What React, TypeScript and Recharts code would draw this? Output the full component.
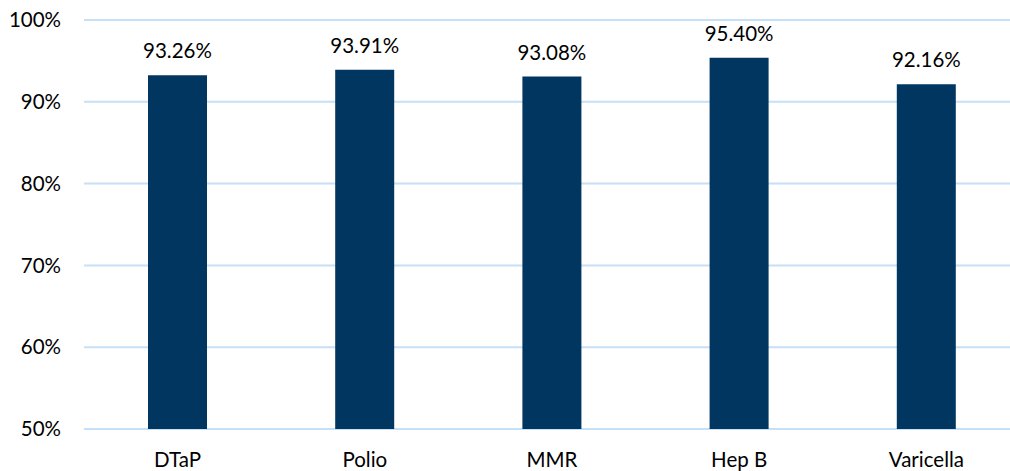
import React from "react";
import { BarChart, Bar, XAxis, YAxis, CartesianGrid, LabelList } from "recharts";

const categories = ["DTaP", "Polio", "MMR", "Hep B", "Varicella"];
const coverage = [93.26, 93.91, 93.08, 95.4, 92.16];
const yTicks = [50, 60, 70, 80, 90, 100];

const data = categories.map((name, i) => ({ name, value: coverage[i] }));

const FONT = "Lato, 'Open Sans', sans-serif";

export default function App() {
  return (
    <div
      style={{
        position: "fixed",
        left: 0,
        top: 0,
        width: 1010,
        height: 471,
        overflow: "hidden",
        background: "#ffffff",
      }}
    >
      <BarChart
        width={1020}
        height={471}
        data={data}
        margin={{ top: 20, right: 0, bottom: 0, left: 0 }}
      >
        <CartesianGrid
          horizontal={true}
          vertical={false}
          stroke="#C5E0F7"
          strokeWidth={2}
        />
        <XAxis
          dataKey="name"
          axisLine={false}
          tickLine={false}
          height={42}
          tickSize={0}
          tick={{ fill: "#000000", fontSize: 20.5, fontFamily: FONT, dy: 21 }}
          interval={0}
        />
        <YAxis
          domain={[50, 100]}
          ticks={yTicks}
          allowDataOverflow={true}
          axisLine={false}
          tickLine={false}
          tickSize={0}
          tickMargin={23}
          width={84}
          tickFormatter={(v: number) => `${v}%`}
          tick={{ fill: "#000000", fontSize: 20.5, fontFamily: FONT }}
        />
        <Bar dataKey="value" fill="#00365F" barSize={59} isAnimationActive={false}>
          <LabelList
            dataKey="value"
            position="top"
            offset={17}
            formatter={(v: number) => `${v.toFixed(2)}%`}
            style={{ fill: "#000000", fontSize: 20.5, fontFamily: FONT }}
          />
        </Bar>
      </BarChart>
    </div>
  );
}
